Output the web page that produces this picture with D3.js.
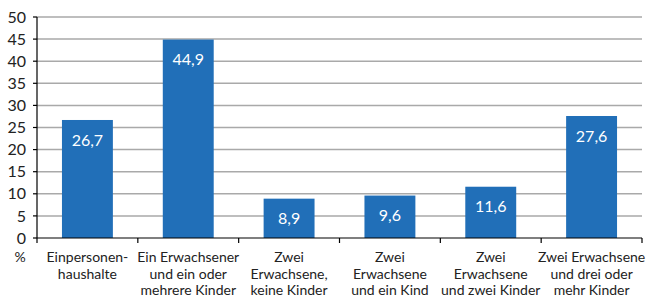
<!DOCTYPE html>
<html>
<head>
<meta charset="utf-8">
<script src="https://cdn.jsdelivr.net/npm/d3@7"></script>
<style>
  body { margin: 0; background: #fff; }
  text { font-family: Lato, "Open Sans", sans-serif; }
</style>
</head>
<body>
<div id="chart"></div>
<script>
// data
const categories = [
  ["Einpersonen-", "haushalte"],
  ["Ein Erwachsener", "und ein oder", "mehrere Kinder"],
  ["Zwei", "Erwachsene,", "keine Kinder"],
  ["Zwei", "Erwachsene", "und ein Kind"],
  ["Zwei", "Erwachsene", "und zwei Kinder"],
  ["Zwei Erwachsene", "und drei oder", "mehr Kinder"]
];
const values = [26.7, 44.9, 8.9, 9.6, 11.6, 27.6];
const yTicks = [0, 5, 10, 15, 20, 25, 30, 35, 40, 45, 50];

const W = 656, H = 295;
const margin = { top: 17, right: 14, bottom: 57, left: 37 };
const width = W - margin.left - margin.right;
const height = H - margin.top - margin.bottom;

const svg = d3.select("#chart").append("svg")
  .attr("width", W)
  .attr("height", H);

const g = svg.append("g")
  .attr("transform", `translate(${margin.left},${margin.top})`);

const x = d3.scaleBand()
  .domain(d3.range(values.length))
  .range([0, width])
  .paddingInner(0.495)
  .paddingOuter(0.2475);

const y = d3.scaleLinear()
  .domain([0, 50])
  .range([height, 0]);

// gridlines
g.selectAll(".grid")
  .data(yTicks.filter(d => d > 0))
  .enter().append("line")
  .attr("x1", 0)
  .attr("x2", width)
  .attr("y1", d => y(d))
  .attr("y2", d => y(d))
  .attr("stroke", "#a9a9a9")
  .attr("stroke-width", 1.5);

// bars
g.selectAll(".bar")
  .data(values)
  .enter().append("rect")
  .attr("x", (d, i) => x(i))
  .attr("y", d => y(d))
  .attr("width", x.bandwidth())
  .attr("height", d => height - y(d))
  .attr("fill", "#216fb8");

// value labels
g.selectAll(".val")
  .data(values)
  .enter().append("text")
  .attr("x", (d, i) => x(i) + x.bandwidth() / 2)
  .attr("y", d => y(d) + 20)
  .attr("dy", ".35em")
  .attr("text-anchor", "middle")
  .attr("fill", "#fff")
  .attr("font-size", 16)
  .text(d => d.toFixed(1).replace(".", ","));

// y axis
g.append("line")
  .attr("x1", 0).attr("x2", 0)
  .attr("y1", 0).attr("y2", height)
  .attr("stroke", "#000").attr("stroke-width", 1.2);

g.selectAll(".ytick")
  .data(yTicks)
  .enter().append("line")
  .attr("x1", -4).attr("x2", 0)
  .attr("y1", d => y(d)).attr("y2", d => y(d))
  .attr("stroke", "#000").attr("stroke-width", 1.2);

g.selectAll(".ylab")
  .data(yTicks)
  .enter().append("text")
  .attr("x", -11)
  .attr("y", d => y(d))
  .attr("dy", ".35em")
  .attr("text-anchor", "end")
  .attr("fill", "#222")
  .attr("font-size", 16)
  .text(d => d);

// x axis
g.append("line")
  .attr("x1", 0).attr("x2", width)
  .attr("y1", height).attr("y2", height)
  .attr("stroke", "#000").attr("stroke-width", 1.2);

const step = x.step();
g.selectAll(".xtick")
  .data(d3.range(values.length + 1))
  .enter().append("line")
  .attr("x1", i => i * step).attr("x2", i => i * step)
  .attr("y1", height).attr("y2", height + 5)
  .attr("stroke", "#000").attr("stroke-width", 1.2);

// category labels
const lab = g.selectAll(".xlab")
  .data(categories)
  .enter().append("text")
  .attr("text-anchor", "middle")
  .attr("fill", "#222")
  .attr("font-size", 14)
  .attr("transform", (d, i) => `translate(${x(i) + x.bandwidth() / 2},${height + 24})`);

lab.selectAll("tspan")
  .data(d => d)
  .enter().append("tspan")
  .attr("x", 0)
  .attr("y", (d, i) => i * 16.5)
  .text(d => d);

// unit label
g.append("text")
  .attr("x", -17)
  .attr("y", height + 24)
  .attr("text-anchor", "middle")
  .attr("fill", "#222")
  .attr("font-size", 14)
  .text("%");
</script>
</body>
</html>
